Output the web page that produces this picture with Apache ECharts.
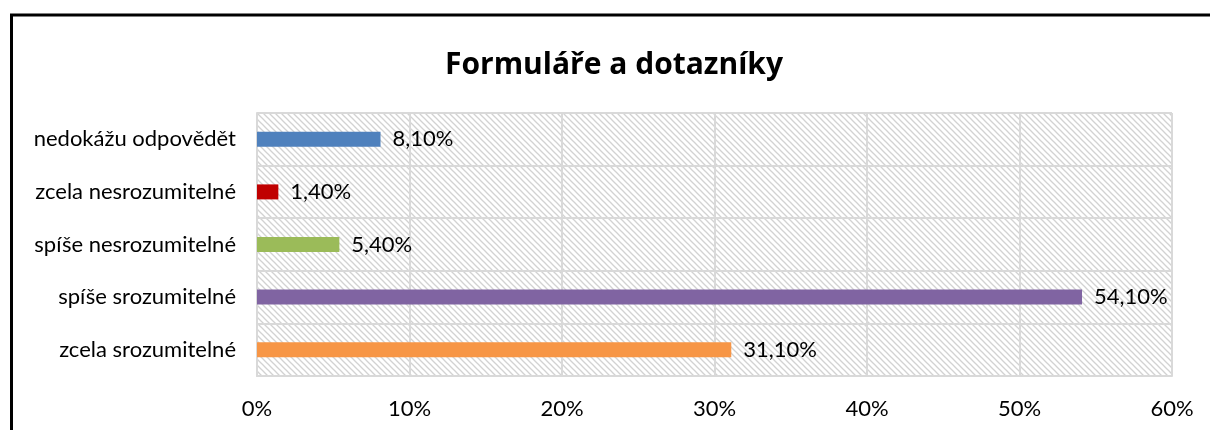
<!DOCTYPE html>
<html><head><meta charset="utf-8">
<script src="https://cdn.jsdelivr.net/npm/echarts@6/dist/echarts.min.js"></script>
<style>html,body{margin:0;padding:0;background:#fff;}#c{width:1210px;height:430px;}</style>
</head><body><div id="c"></div>
<script>
const categories = ['nedokážu odpovědět', 'zcela nesrozumitelné', 'spíše nesrozumitelné', 'spíše srozumitelné', 'zcela srozumitelné'];
const values = [8.1, 1.4, 5.4, 54.1, 31.1];
const barColors = ['#4f81bd', '#c00000', '#9bbb59', '#8064a2', '#f79646'];
const xTicks = [0, 10, 20, 30, 40, 50, 60];

const tile = document.createElement('canvas');
const S = 6;
tile.width = S; tile.height = S;
const g = tile.getContext('2d');
g.fillStyle = '#ffffff'; g.fillRect(0, 0, S, S);
g.strokeStyle = '#d2d2d2'; g.lineWidth = 1.3;
for (let k = -1; k <= 1; k++) {
  g.beginPath(); g.moveTo(-1, k * S - 1); g.lineTo(S + 1, k * S + S + 1); g.stroke();
}

const font = 'Lato, "Open Sans", sans-serif';
const titleFont = '"Open Sans", Lato, sans-serif';
const chart = echarts.init(document.getElementById('c'), null, {renderer: 'canvas'});
chart.setOption({
  animation: false,
  backgroundColor: '#fff',
  title: {
    text: 'Formuláře a dotazníky', left: 440, top: 45,
    textStyle: {fontFamily: titleFont, fontWeight: 'bold', fontSize: 30, color: '#000'}
  },
  graphic: [{
    type: 'rect', z: 100, silent: true,
    shape: {x: 11.5, y: 15, width: 1400, height: 600},
    style: {fill: 'none', stroke: '#000', lineWidth: 3}
  }],
  grid: {
    left: 257, right: 38, top: 113, bottom: 54, show: true,
    backgroundColor: {image: tile, repeat: 'repeat'}, borderWidth: 0
  },
  xAxis: {
    type: 'value', min: 0, max: 60, interval: 10,
    axisLabel: {formatter: v => xTicks.includes(v) ? v + '%' : '', fontFamily: font, fontSize: 22, color: '#000', margin: 22},
    axisLine: {show: true, lineStyle: {color: '#d9d9d9', width: 2}},
    axisTick: {show: false},
    splitLine: {show: true, lineStyle: {color: '#d9d9d9', width: 2}}
  },
  yAxis: {
    type: 'category', data: categories, inverse: true,
    axisLabel: {fontFamily: font, fontSize: 22, color: '#000', margin: 21},
    axisLine: {show: true, lineStyle: {color: '#d9d9d9', width: 2}},
    axisTick: {show: false},
    splitLine: {show: true, lineStyle: {color: '#d9d9d9', width: 2}}
  },
  series: [{
    type: 'bar', barWidth: 15,
    data: values.map((v, i) => ({value: v, itemStyle: {color: barColors[i]}})),
    label: {
      show: true, position: 'right', distance: 12,
      fontFamily: font, fontSize: 22, color: '#000',
      formatter: p => p.value.toFixed(2).replace('.', ',') + '%'
    }
  }]
});
</script></body></html>
